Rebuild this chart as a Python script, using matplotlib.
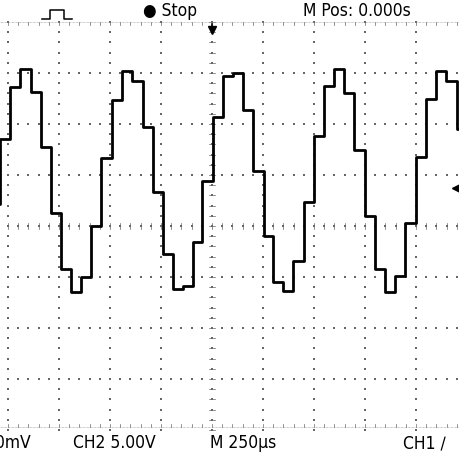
import matplotlib
matplotlib.use("Agg")
import matplotlib.pyplot as plt
import numpy as np

# step edge times (divisions from screen centre, 250 us/div) and levels (divisions, 5 V/div)
step_t = [-4.16,-3.96,-3.76,-3.55,-3.35,-3.16,-2.96,-2.76,-2.57,-2.37,-2.18,-1.96,-1.76,-1.57,-1.35,-1.16,-0.96,-0.76,-0.57,-0.37,-0.20,0.02,0.22,0.41,0.61,0.80,1.02,1.20,1.39,1.59,1.80,2.00,2.20,2.39,2.59,2.78,3.00,3.20,3.39,3.59,3.78,4.00,4.20,4.39,4.59,4.80]
step_v = [1.71,2.73,3.08,2.63,1.55,0.25,-0.84,-1.29,-1.00,0.00,1.33,2.47,3.04,2.84,1.94,0.67,-0.55,-1.24,-1.18,-0.31,0.88,2.14,2.94,3.00,2.27,1.08,-0.20,-1.10,-1.27,-0.69,0.47,1.76,2.75,3.08,2.61,1.49,0.20,-0.84,-1.29,-0.98,0.06,1.35,2.49,3.04,2.84,1.90]
v_before = 0.43

top_labels = ["● Stop", "M Pos: 0.000s"]
bottom_labels = ["0mV", "CH2 5.00V", "M 250µs", "CH1 ∕"]

fig = plt.figure(figsize=(4.6, 4.6), dpi=100)
ax = fig.add_axes([0, 0, 1, 1])
px = 1/51.0
ax.set_xlim(-212*px, 248*px)
ax.set_ylim(-233*px, 227*px)
ax.axis("off")

# graticule dots
g = dict(color="#666666", s=1.0, marker="s", linewidths=0)
sub = np.arange(-5, 5.01, 0.2)
for gx in range(-4, 5):
    ys = np.arange(-4, 4.01, 0.2)
    ax.scatter(np.full_like(ys, gx), ys, **g)
for gy in range(-3, 4):
    ax.scatter(sub, np.full_like(sub, gy), **g)
# centre axis tick marks
for x in sub:
    ax.plot([x, x], [-0.05, 0.05], color="#666666", lw=0.5)
for y in np.arange(-4, 4.01, 0.2):
    ax.plot([-0.05, 0.05], [y, y], color="#666666", lw=0.5)
# top/bottom borders
ax.plot([-5, 5], [4, 4], color="#999999", lw=0.5, ls=(0, (1, 1)))
ax.plot([-5, 5], [-3.95, -3.95], color="#999999", lw=0.5, ls=(0, (1, 1)))
for x in sub:
    ax.plot([x, x], [4, 3.94], color="#666666", lw=0.5)
    ax.plot([x, x], [-3.95, -3.89], color="#666666", lw=0.5)

# waveform
t = [-5] + step_t + [5]
v = [v_before] + step_v + [step_v[-1]]
ax.step(t, v, where="post", color="black", lw=2.0)

# markers
ax.plot([0], [3.85], marker="v", color="black", ms=6)
ax.plot([0, 0], [3.97, 3.85], color="black", lw=1.2)
ax.plot([245*px], [(227-189)*px], marker="<", color="black", ms=7)

fkw = dict(family="DejaVu Sans", fontstretch="condensed", fontsize=12.5, va="center")
# top pulse icon
ix = np.array([44, 50, 50, 54, 54, 64, 64, 68, 68, 75]); iy = np.array([0, 0, 1, 1, 0, 0, 0, 0, 0, 0])
ix = np.array([42, 50, 50, 54, 54, 60, 60, 64, 64, 72]); iy = np.array([0, 0, 1, 1, 1, 1, 1, 1, 0, 0])
ax.plot((ix-212)*px, (227-20+iy*9)*px, color="black", lw=1.1)
ax.text((143-212)*px, (227-11)*px, top_labels[0], ha="left", **fkw)
ax.text((303-212)*px, (227-11)*px, top_labels[1], ha="left", **fkw)
ax.text((-5-212)*px, (227-443)*px, bottom_labels[0], ha="left", **fkw)
ax.text((73-212)*px, (227-443)*px, bottom_labels[1], ha="left", **fkw)
ax.text((210-212)*px, (227-443)*px, bottom_labels[2], ha="left", **fkw)
ax.text((403-212)*px, (227-443)*px, bottom_labels[3], ha="left", **fkw)

fig.savefig("out.png", dpi=100)
